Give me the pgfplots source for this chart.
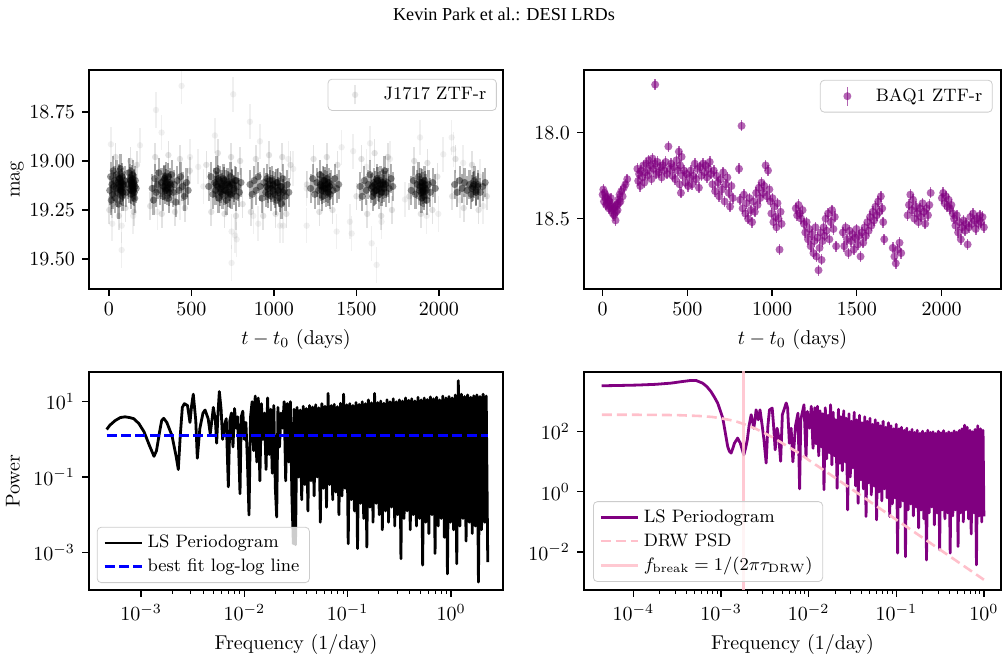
\documentclass[border=0pt]{standalone}
\usepackage{fontspec}
\usepackage{pgfplots}
\pgfplotsset{compat=1.18}
\usepackage{pgfplotstable}
\newfontfamily\timesf{Liberation Serif}
\definecolor{mplpurple}{RGB}{128,0,128}
\definecolor{mplpink}{RGB}{255,192,203}
\definecolor{mplblue}{RGB}{0,0,255}

\pgfplotsset{
  /pgf/number format/1000 sep={},
  mpl/.style={
    scale only axis,
    anchor=south west,
    tick align=outside,
    tick pos=left,
    major tick length=3.5pt,
    minor tick length=2pt,
    axis line style={line width=0.6pt},
    tick style={black, line width=0.6pt},
    minor tick style={line width=0.45pt},
    legend cell align=left,
    legend style={draw=black!20, rounded corners=2pt, fill=white, fill opacity=0.8,
      text opacity=1, draw opacity=1, font=\fontsize{9}{10}\selectfont},
  },
  linelegend/.style={legend image code/.code={\draw[##1] (0cm,0cm) -- (0.66cm,0cm);}},
}

% ---------------- J1717 light curve ----------------
\pgfplotstableread{
t m
5 19.15
10 19.08
14 19.20
18 19.12
22 19.17
26 19.05
30 19.13
34 19.10
38 19.19
42 19.14
46 19.07
50 19.16
54 19.11
58 19.22
62 19.09
66 19.13
70 19.04
74 19.15
78 19.11
82 19.18
86 19.13
95 19.10
105 19.16
115 19.12
120 19.06
124 19.14
128 19.09
132 19.17
136 19.11
140 19.13
144 19.07
148 19.15
152 19.12
156 19.19
160 19.10
165 19.14
262 19.14
270 19.20
278 19.09
286 19.16
294 19.12
302 19.06
310 19.15
318 19.11
326 19.18
332 19.10
338 19.13
344 19.08
350 19.15
356 19.12
362 19.19
368 19.11
374 19.14
380 19.07
388 19.16
396 19.12
405 19.21
414 19.10
424 19.15
434 19.08
446 19.13
458 19.18
470 19.11
480 19.15
605 19.13
618 19.08
630 19.17
640 19.11
646 19.15
652 19.05
658 19.13
664 19.19
670 19.10
676 19.14
682 19.12
688 19.17
694 19.09
700 19.15
706 19.12
712 19.20
718 19.11
724 19.16
730 19.13
736 19.08
742 19.17
748 19.12
756 19.15
764 19.10
772 19.18
780 19.13
790 19.16
800 19.11
855 19.12
868 19.17
880 19.10
892 19.15
904 19.08
916 19.13
928 19.19
940 19.11
950 19.16
958 19.09
966 19.14
974 19.12
982 19.18
990 19.10
998 19.15
1006 19.13
1014 19.20
1022 19.11
1030 19.16
1038 19.13
1046 19.22
1054 19.09
1062 19.15
1070 19.18
1080 19.12
1090 19.16
1222 19.14
1235 19.09
1248 19.17
1260 19.11
1270 19.15
1278 19.07
1285 19.13
1292 19.18
1298 19.10
1304 19.14
1310 19.12
1316 19.16
1322 19.09
1328 19.14
1334 19.11
1340 19.17
1348 19.12
1358 19.15
1368 19.09
1380 19.14
1392 19.12
1522 19.13
1535 19.18
1548 19.10
1560 19.15
1572 19.12
1582 19.07
1590 19.14
1598 19.18
1606 19.11
1614 19.15
1622 19.09
1630 19.13
1638 19.17
1646 19.10
1654 19.14
1662 19.12
1670 19.05
1678 19.16
1688 19.11
1698 19.14
1710 19.09
1720 19.13
1832 19.15
1845 19.10
1858 19.17
1868 19.12
1876 19.08
1882 19.15
1888 19.11
1894 19.19
1900 19.13
1906 19.16
1912 19.10
1918 19.14
1926 19.20
1936 19.12
1948 19.16
1962 19.11
1978 19.14
2095 19.12
2110 19.16
2125 19.10
2140 19.14
2155 19.11
2170 19.15
2185 19.12
2195 19.17
2205 19.13
2215 19.10
2225 19.15
2235 19.12
2250 19.16
2265 19.13
2280 19.11
}\jcore

\pgfplotstableread{
t m
60 19.12
64 19.09
68 19.15
72 19.11
76 19.14
80 19.08
84 19.16
88 19.12
130 19.10
134 19.15
138 19.12
142 19.09
146 19.14
150 19.11
154 19.16
158 19.13
330 19.13
336 19.09
342 19.15
348 19.11
354 19.14
360 19.08
366 19.16
372 19.12
650 19.12
662 19.09
674 19.16
686 19.13
698 19.10
710 19.15
722 19.12
734 19.17
746 19.11
758 19.14
770 19.10
955 19.13
965 19.17
975 19.10
985 19.14
995 19.12
1005 19.17
1015 19.11
1025 19.15
1035 19.19
1045 19.13
1055 19.16
1282 19.12
1290 19.15
1298 19.13
1306 19.10
1314 19.14
1322 19.12
1330 19.16
1338 19.13
1596 19.13
1604 19.16
1612 19.12
1620 19.15
1628 19.10
1636 19.14
1644 19.12
1652 19.16
1660 19.11
1668 19.14
1676 19.12
1886 19.13
1892 19.16
1898 19.11
1904 19.15
1910 19.18
1916 19.12
1922 19.15
2200 19.14
2212 19.12
2224 19.16
2236 19.13
}\jdense

\pgfplotstableread{
t m
2 19.25
20 19.22
40 18.98
60 19.28
100 19.24
130 19.00
150 19.26
170 19.02
250 19.23
280 18.98
320 19.27
360 18.97
400 19.26
430 18.99
460 19.24
490 19.05
590 19.02
620 19.26
660 18.96
700 19.27
740 18.98
770 19.28
795 19.00
810 19.22
860 19.26
890 18.99
935 19.28
970 18.97
1010 19.27
1050 18.98
1075 19.27
1100 19.02
1200 19.12
1240 18.99
1275 19.26
1320 18.98
1355 19.25
1385 19.02
1500 19.18
1530 18.99
1565 19.27
1610 18.96
1650 19.28
1690 18.98
1715 19.25
1820 19.18
1850 19.00
1890 19.27
1930 19.01
1960 19.25
1990 19.08
2080 19.18
2100 18.99
2150 19.24
2200 19.02
2240 19.25
2290 19.18
}\jmid

\pgfplotstableread{
t m
440 18.617
753 18.66
285 18.74
854 18.80
319 18.855
12 18.915
915 18.90
1885 18.88
2077 18.88
1582 18.91
642 18.87
77 19.454
743 19.52
1622 19.53
1592 19.42
1380 19.36
1471 19.37
764 19.38
1198 19.33
905 19.32
20 19.32
1996 19.27
1794 19.196
2268 19.23
1036 19.33
188 18.92
1410 18.93
491 18.98
1480 18.95
2026 18.966
2147 19.01
77 19.33
147 19.28
293 19.26
430 19.21
743 19.36
774 19.40
875 19.28
1056 19.33
1460 19.31
1652 19.31
1925 19.28
2127 19.20
1703 18.99
1561 19.03
1117 19.04
1087 18.99
2087 18.94
541 19.03
572 19.13
1198 19.14
2248 19.08
}\jout

% ---------------- BAQ1 light curve ----------------
\pgfplotstableread{
t m
0 18.36
4 18.33
8 18.40
12 18.35
16 18.38
20 18.42
24 18.37
28 18.41
32 18.39
36 18.44
40 18.40
44 18.43
48 18.38
52 18.45
56 18.42
60 18.47
64 18.44
68 18.48
72 18.43
76 18.51
80 18.46
84 18.42
88 18.45
92 18.39
96 18.41
100 18.36
105 18.40
110 18.34
118 18.37
125 18.32
135 18.30
145 18.27
205 18.21
210 18.28
215 18.24
222 18.31
228 18.22
235 18.26
240 18.19
246 18.29
252 18.23
258 18.18
264 18.25
270 18.16
276 18.22
282 18.19
288 18.27
294 18.15
300 18.21
308 18.18
310 17.72
316 18.24
324 18.17
332 18.23
340 18.20
348 18.26
356 18.19
364 18.22
372 18.17
380 18.24
388 18.08
396 18.21
404 18.18
412 18.25
420 18.20
428 18.27
436 18.16
444 18.22
450 18.11
454 18.30
458 18.19
462 18.35
466 18.14
472 18.25
480 18.22
488 18.29
496 18.24
504 18.31
512 18.26
520 18.22
528 18.30
536 18.25
544 18.18
552 18.27
560 18.21
568 18.32
576 18.20
584 18.25
592 18.18
600 18.23
608 18.19
616 18.26
624 18.21
632 18.17
640 18.24
648 18.30
656 18.22
664 18.34
672 18.25
680 18.29
688 18.37
696 18.27
704 18.33
712 18.23
720 18.40
728 18.30
736 18.26
744 18.35
752 18.43
760 18.31
768 18.38
805 18.21
812 18.39
820 17.96
826 18.44
834 18.36
842 18.47
850 18.41
858 18.50
866 18.38
874 18.45
882 18.52
890 18.40
898 18.46
906 18.35
914 18.42
922 18.32
930 18.38
938 18.29
946 18.35
954 18.31
962 18.19
970 18.37
976 18.22
984 18.33
990 18.40
996 18.47
1002 18.38
1008 18.52
1014 18.43
1020 18.49
1026 18.55
1032 18.41
1038 18.50
1044 18.68
1050 18.46
1056 18.53
1140 18.44
1148 18.48
1156 18.42
1164 18.47
1172 18.50
1180 18.45
1188 18.53
1196 18.58
1204 18.52
1212 18.62
1220 18.56
1228 18.66
1236 18.59
1244 18.70
1250 18.63
1256 18.55
1262 18.72
1268 18.61
1274 18.80
1280 18.67
1286 18.58
1292 18.74
1298 18.63
1304 18.55
1310 18.60
1316 18.50
1322 18.57
1330 18.47
1338 18.62
1346 18.52
1354 18.45
1362 18.56
1370 18.49
1378 18.66
1418 18.58
1426 18.66
1434 18.55
1442 18.62
1450 18.70
1458 18.57
1466 18.63
1474 18.59
1482 18.68
1490 18.61
1498 18.56
1506 18.65
1514 18.60
1522 18.72
1530 18.58
1538 18.64
1546 18.55
1554 18.60
1562 18.52
1570 18.57
1578 18.49
1586 18.54
1594 18.46
1602 18.51
1610 18.43
1618 18.48
1626 18.40
1634 18.46
1642 18.37
1650 18.44
1656 18.52
1662 18.62
1712 18.67
1722 18.72
1730 18.76
1740 18.68
1752 18.64
1762 18.70
1800 18.48
1808 18.42
1816 18.36
1824 18.45
1832 18.39
1840 18.50
1848 18.43
1856 18.47
1864 18.52
1872 18.44
1880 18.49
1888 18.41
1896 18.46
1904 18.53
1912 18.44
1920 18.48
1928 18.42
1936 18.35
2002 18.38
2010 18.35
2018 18.41
2026 18.37
2034 18.43
2042 18.39
2050 18.44
2058 18.42
2066 18.47
2074 18.50
2082 18.54
2090 18.48
2098 18.58
2106 18.52
2114 18.62
2122 18.55
2130 18.51
2138 18.57
2146 18.53
2154 18.65
2162 18.55
2170 18.49
2178 18.53
2186 18.47
2194 18.51
2202 18.56
2210 18.50
2218 18.53
2226 18.48
2234 18.52
2242 18.49
2250 18.55
}\baq

% ---------------- J1717 periodogram (log10 f, log10 P) ----------------
\pgfplotstableread{
lf lp
-3.332 0.264
-3.30 0.38
-3.25 0.50
-3.20 0.58
-3.155 0.60
-3.11 0.58
-3.07 0.55
-3.02 0.42
-2.97 0.20
-2.92 -0.15
-2.874 -0.45
-2.85 -0.30
-2.82 0.20
-2.80 0.50
-2.78 0.56
-2.75 0.45
-2.70 0.10
-2.66 -0.45
-2.639 -0.80
-2.62 0.10
-2.60 0.85
-2.58 0.95
-2.55 0.90
-2.526 0.45
-2.51 0.90
-2.494 1.20
-2.47 0.50
-2.455 -0.50
-2.43 0.30
-2.40 0.70
-2.38 0.78
-2.35 0.55
-2.33 0.15
-2.31 0.60
-2.30 0.85
-2.28 0.50
-2.268 -0.10
-2.255 0.70
-2.242 1.27
-2.225 0.80
-2.21 0.00
-2.19 0.40
-2.175 0.55
-2.155 -1.26
-2.14 0.50
-2.125 0.70
-2.11 -0.20
-2.095 0.82
-2.08 0.30
-2.065 0.60
-2.042 -1.44
-2.03 0.60
-2.015 0.75
-2.00 0.00
-1.985 0.45
-1.97 -0.60
-1.955 -2.01
-1.94 0.60
-1.925 1.00
-1.91 -0.30
-1.895 1.15
-1.88 -0.60
-1.865 1.10
-1.85 -1.10
-1.835 0.95
-1.82 0.00
-1.805 0.70
-1.79 -0.80
-1.775 1.10
-1.76 -0.40
-1.745 0.80
-1.73 -0.90
-1.715 0.90
-1.70 -1.30
-1.687 -2.06
-1.675 0.85
-1.66 -0.20
-1.645 0.70
-1.63 0.30
-1.615 1.00
-1.60 -1.10
-1.585 0.95
-1.57 -0.60
-1.555 1.00
-1.54 -1.50
-1.526 -2.77
-1.520 0.80
-1.505 -2.80
-1.490 0.85
-1.475 -1.0
-1.460 0.78
-1.445 -1.6
-1.430 0.88
-1.415 -1.2
-1.400 0.82
-1.385 -1.9
-1.370 0.90
-1.355 -1.1
-1.340 0.86
-1.325 -1.5
-1.310 0.92
-1.295 -1.0
-1.280 0.84
-1.265 -2.2
-1.250 0.95
-1.235 -1.3
-1.220 0.88
-1.205 -1.8
-1.190 1.22
-1.175 -1.2
-1.160 0.90
-1.145 -1.6
-1.130 0.93
-1.115 -1.4
-1.100 0.87
-1.085 -2.0
-1.070 0.96
-1.055 -1.5
-1.040 1.20
-1.025 -1.3
-1.010 0.92
-0.995 -2.77
-0.980 0.95
-0.965 -1.6
-0.950 0.90
-0.935 -1.9
-0.920 0.98
-0.905 -2.90
-0.890 0.93
-0.875 -1.7
-0.860 1.00
-0.845 -2.1
-0.830 0.95
-0.815 -2.86
-0.800 1.05
-0.785 -1.8
-0.770 0.97
-0.755 -2.2
-0.740 1.22
-0.725 -1.7
-0.710 0.98
-0.695 -2.0
-0.680 1.02
-0.665 -2.40
-0.650 0.96
-0.635 -1.9
-0.620 1.05
-0.605 -2.2
-0.590 1.00
-0.575 -1.8
-0.560 1.08
-0.545 -2.3
-0.530 1.00
-0.515 -2.0
-0.500 1.05
-0.485 -3.17
-0.470 1.02
-0.455 -2.1
-0.440 1.10
-0.425 -1.9
-0.410 1.04
-0.395 -2.4
-0.380 1.08
-0.365 -2.0
-0.350 1.02
-0.335 -2.3
-0.320 1.12
-0.305 -2.1
-0.290 1.05
-0.275 -3.34
-0.260 1.10
-0.245 -2.2
-0.230 1.06
-0.215 -2.5
-0.200 1.13
-0.185 -2.0
-0.170 1.08
-0.155 -3.03
-0.140 1.12
-0.125 -2.3
-0.110 1.05
-0.095 -2.1
-0.080 1.15
-0.065 -2.6
-0.050 1.10
-0.035 -3.57
-0.020 1.14
-0.005 -2.2
0.010 1.10
0.025 -2.4
0.040 1.18
0.055 -3.30
0.070 1.56
0.085 -2.3
0.100 1.20
0.115 -2.1
0.130 1.14
0.145 -2.7
0.160 1.18
0.175 -2.2
0.190 1.12
0.205 -2.5
0.220 1.16
0.235 -2.3
0.250 1.18
0.265 -3.79
0.280 1.14
0.295 -2.4
0.310 1.20
0.325 -2.2
0.340 1.15
0.355 -3.26
}\blackpg

% ---------------- BAQ1 periodogram (log10 f, log10 P) ----------------
\pgfplotstableread{
lf lp
-4.363 3.533
-4.2 3.54
-3.954 3.556
-3.75 3.58
-3.573 3.62
-3.45 3.67
-3.344 3.71
-3.286 3.71
-3.21 3.62
-3.16 3.50
-3.115 3.34
-3.075 3.15
-3.038 2.956
-3.008 2.70
-2.98 2.456
-2.95 1.95
-2.924 1.51
-2.905 1.35
-2.885 1.29
-2.865 1.45
-2.847 1.62
-2.81 1.79
-2.78 1.62
-2.74 1.23
-2.72 1.45
-2.70 1.73
-2.68 2.20
-2.656 2.57
-2.64 2.35
-2.626 2.12
-2.61 2.45
-2.60 2.73
-2.575 2.40
-2.555 2.73
-2.53 2.20
-2.51 1.73
-2.485 0.96
-2.465 2.20
-2.447 2.73
-2.416 2.79
-2.40 2.20
-2.382 1.40
-2.36 2.12
-2.34 1.80
-2.32 1.02
-2.30 2.57
-2.256 2.96
-2.24 2.79
-2.22 1.62
-2.20 2.12
-2.18 1.00
-2.15 2.20
-2.122 2.62
-2.103 0.10
-2.09 2.40
-2.053 2.90
-2.03 1.15
-2.015 2.68
-1.99 2.12
-1.97 2.85
-1.95 1.45
-1.93 2.80
-1.915 1.60
-1.900 2.85
-1.885 1.20
-1.870 2.70
-1.855 1.50
-1.840 2.60
-1.825 0.07
-1.810 2.80
-1.795 1.10
-1.780 2.55
-1.765 1.30
-1.750 2.90
-1.735 0.90
-1.720 2.65
-1.705 1.20
-1.690 2.40
-1.675 0.12
-1.660 2.75
-1.645 0.95
-1.630 2.50
-1.615 0.70
-1.600 2.70
-1.585 1.00
-1.570 2.45
-1.555 -0.60
-1.540 2.60
-1.525 0.50
-1.510 2.35
-1.495 0.80
-1.480 2.65
-1.465 0.20
-1.450 2.40
-1.435 -0.38
-1.420 2.55
-1.405 0.40
-1.390 2.30
-1.375 0.10
-1.360 2.50
-1.345 -0.82
-1.330 2.35
-1.315 0.30
-1.300 2.45
-1.285 -0.10
-1.270 2.25
-1.255 0.20
-1.240 2.40
-1.225 -0.93
-1.210 2.30
-1.195 0.00
-1.180 2.20
-1.165 -0.30
-1.150 2.35
-1.135 0.10
-1.120 2.15
-1.105 -0.20
-1.090 2.30
-1.075 -0.82
-1.060 2.20
-1.045 -0.40
-1.030 2.10
-1.015 -0.20
-1.000 2.25
-0.985 -2.04
-0.970 2.10
-0.955 -0.50
-0.940 2.15
-0.925 -0.30
-0.910 2.05
-0.895 -2.16
-0.880 2.12
-0.865 -0.60
-0.850 2.00
-0.835 -0.40
-0.820 2.08
-0.805 -0.80
-0.790 1.98
-0.775 -0.50
-0.760 2.05
-0.745 -1.20
-0.730 1.95
-0.715 -0.60
-0.700 2.02
-0.685 -0.90
-0.670 1.96
-0.655 -2.27
-0.640 2.05
-0.625 -0.70
-0.610 1.98
-0.595 -0.50
-0.580 2.00
-0.565 -1.10
-0.550 1.94
-0.535 -0.70
-0.520 2.02
-0.505 -1.93
-0.490 1.97
-0.475 -0.60
-0.460 2.04
-0.445 -0.90
-0.430 1.95
-0.415 -0.70
-0.400 2.00
-0.385 -2.04
-0.370 1.96
-0.355 -0.80
-0.340 2.03
-0.325 -0.60
-0.310 1.98
-0.295 -1.82
-0.280 2.05
-0.265 -0.70
-0.250 2.10
-0.235 -1.00
-0.220 2.22
-0.205 -0.60
-0.190 2.15
-0.175 -0.90
-0.160 2.05
-0.145 -1.40
-0.130 2.00
-0.115 -0.70
-0.100 2.08
-0.085 -2.43
-0.070 2.20
-0.055 -0.80
-0.040 2.10
-0.025 -1.00
-0.010 2.05
0.000 -0.82
}\purplepg

% DRW PSD model curve (log10 f, log10 P)
\pgfplotstableread{
lf lp
-4.36 2.568
-4.00 2.567
-3.75 2.563
-3.50 2.555
-3.25 2.527
-3.10 2.494
-3.00 2.450
-2.90 2.394
-2.82 2.336
-2.75 2.270
-2.68 2.193
-2.60 2.096
-2.50 1.953
-2.40 1.797
-2.25 1.532
-2.10 1.272
-2.00 1.060
-1.75 0.571
-1.50 0.073
-1.25 -0.427
-1.00 -0.927
-0.50 -1.926
0.00 -2.926
}\drw

\pgfplotstableread{
lf lp
-3.332 0.106
0.355 0.106
}\bestfit

\begin{document}
\begin{tikzpicture}
\path[use as bounding box] (0,0) rectangle (504pt,329pt);
\node at (252pt,322pt) {\timesf\fontsize{9.1}{10}\selectfont Kevin Park et al.: DESI LRDs};

% ---------- top left ----------
\begin{axis}[mpl, at={(44.5pt,184.5pt)}, width=207pt, height=109.5pt,
  xmin=-121, xmax=2388, ymin=18.536, ymax=19.653, y dir=reverse,
  xtick={0,500,1000,1500,2000}, ytick={18.75,19,19.25,19.5},
  yticklabel style={/pgf/number format/.cd, fixed, fixed zerofill, precision=2},
  scaled y ticks=false,
  xlabel={$t - t_0$ (days)}, ylabel={mag}, ylabel shift=-4pt,
  legend style={at={(0.985,0.96)}, anchor=north east},
]
\addplot[black, only marks, mark=*, mark size=1.6pt,
  mark options={draw opacity=0, fill opacity=0.06},
  legend image code/.code={
    \path[draw=none] (0cm,0cm) -- (0.8cm,0cm);
    \draw[black, opacity=0.09, line width=0.8pt] (0.37cm,-0.17cm) -- (0.37cm,0.17cm);
    \fill[draw=none, black, opacity=0.09] (0.37cm,0cm) circle (1.6pt);},
  error bars/.cd, y dir=both, y fixed=0.09, error mark=none,
  error bar style={line width=0.8pt, draw opacity=0.06}]
  table[x=t, y=m] {\jout};
\addlegendentry{J1717 ZTF-r}
\addplot[black, only marks, mark=*, mark size=1.6pt, forget plot,
  mark options={draw opacity=0, fill opacity=0.11},
  error bars/.cd, y dir=both, y fixed=0.07, error mark=none,
  error bar style={line width=0.8pt, draw opacity=0.11}]
  table[x=t, y=m] {\jmid};
\addplot[black, only marks, mark=*, mark size=1.8pt, forget plot,
  mark options={draw opacity=0, fill opacity=0.42},
  error bars/.cd, y dir=both, y fixed=0.075, error mark=none,
  error bar style={line width=1.1pt, draw opacity=0.3}]
  table[x=t, y=m] {\jcore};
\addplot[black, only marks, mark=*, mark size=1.8pt, forget plot,
  mark options={draw opacity=0, fill opacity=0.5},
  error bars/.cd, y dir=both, y fixed=0.07, error mark=none,
  error bar style={line width=1.1pt, draw opacity=0.35}]
  table[x=t, y=m] {\jdense};
\end{axis}

% ---------- top right ----------
\begin{axis}[mpl, at={(292pt,184.5pt)}, width=208.5pt, height=109.5pt,
  xmin=-110, xmax=2351, ymin=17.635, ymax=18.909, y dir=reverse,
  xtick={0,500,1000,1500,2000}, ytick={18,18.5},
  yticklabel style={/pgf/number format/.cd, fixed, fixed zerofill, precision=1},
  scaled y ticks=false,
  xlabel={$t - t_0$ (days)},
  legend style={at={(0.98,0.955)}, anchor=north east},
]
\addplot[mplpurple, only marks, mark=*, mark size=2pt,
  mark options={draw opacity=0, fill opacity=0.6},
  legend image code/.code={
    \path[draw=none] (0cm,0cm) -- (0.8cm,0cm);
    \draw[mplpurple, opacity=0.6, line width=0.8pt] (0.37cm,-0.17cm) -- (0.37cm,0.17cm);
    \fill[draw=none, mplpurple, opacity=0.6] (0.37cm,0cm) circle (2pt);},
  error bars/.cd, y dir=both, y fixed=0.032, error mark=none,
  error bar style={line width=0.8pt, draw opacity=0.6}]
  table[x=t, y=m] {\baq};
\addlegendentry{BAQ1 ZTF-r}
\end{axis}

% ---------- bottom left ----------
\begin{axis}[mpl, linelegend, at={(44.5pt,34pt)}, width=207pt, height=109pt,
  xmode=log, ymode=log,
  xmin=3.14e-4, xmax=3.18, ymin=1e-4, ymax=61.7,
  xtick={1e-3,1e-2,1e-1,1}, ytick={1e-3,1e-1,1e1},
  yminorticks=false, xminorticks=true,
  xlabel={Frequency (1/day)}, ylabel={Power},
  legend style={at={(0.019,0.032)}, anchor=south west},
]
\addplot[black, line width=1.4pt, line join=round]
  table[x expr={10^(\thisrow{lf})}, y expr={10^(\thisrow{lp})}] {\blackpg};
\addlegendentry{LS Periodogram}
\addplot[mplblue, line width=1.3pt, dash pattern=on 5pt off 2.2pt]
  table[x expr={10^(\thisrow{lf})}, y expr={10^(\thisrow{lp})}] {\bestfit};
\addlegendentry{best fit log-log line}
\end{axis}

% ---------- bottom right ----------
\begin{axis}[mpl, linelegend, at={(292pt,34pt)}, width=208.5pt, height=109pt,
  xmode=log, ymode=log,
  xmin=2.73e-5, xmax=1.567, ymin=5.4e-4, ymax=9.8e3,
  xtick={1e-4,1e-3,1e-2,1e-1,1}, ytick={1e-2,1,1e2},
  yminorticks=false, xminorticks=true,
  xlabel={Frequency (1/day)},
  legend style={at={(0.0216,0.037)}, anchor=south west},
]
\addplot[mplpurple, line width=1.4pt, line join=round]
  table[x expr={10^(\thisrow{lf})}, y expr={10^(\thisrow{lp})}] {\purplepg};
\addlegendentry{LS Periodogram}
\addplot[mplpink, line width=1.3pt, dash pattern=on 5pt off 2.5pt]
  table[x expr={10^(\thisrow{lf})}, y expr={10^(\thisrow{lp})}] {\drw};
\addlegendentry{DRW PSD}
\addplot[mplpink, line width=1.4pt, opacity=0.85]
  coordinates {(1.79e-3,1e-4) (1.79e-3,1e5)};
\addlegendentry{$f_{\rm break} = 1/(2\pi\tau_{\rm DRW})$}
\end{axis}
\end{tikzpicture}
\end{document}
